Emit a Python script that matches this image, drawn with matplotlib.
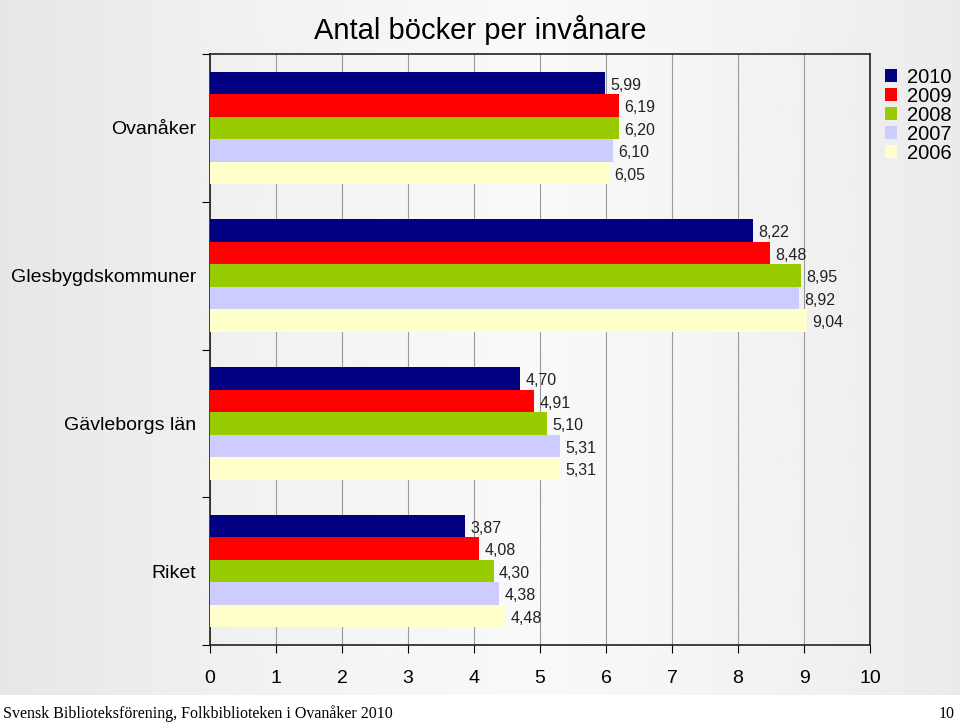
import matplotlib.pyplot as plt
import numpy as np

plt.rcParams['font.family'] = ['Liberation Sans', 'DejaVu Sans']

categories = ['Ovanåker', 'Glesbygdskommuner', 'Gävleborgs län', 'Riket']
years = ['2010', '2009', '2008', '2007', '2006']
v2010 = [5.99, 8.22, 4.70, 3.87]
v2009 = [6.19, 8.48, 4.91, 4.08]
v2008 = [6.20, 8.95, 5.10, 4.30]
v2007 = [6.10, 8.92, 5.31, 4.38]
v2006 = [6.05, 9.04, 5.31, 4.48]
series = [v2010, v2009, v2008, v2007, v2006]
colors = ['#000080', '#ff0000', '#99cc00', '#ccccff', '#ffffcc']

fig = plt.figure(figsize=(9.6, 7.25), dpi=100)
fig.patch.set_facecolor('white')

# grey gradient background behind the chart
bg = fig.add_axes([0, 30 / 725, 1, 695 / 725], zorder=-10)
xs = np.linspace(0, 1, 400)
shade = 0.975 - 0.07 * (np.abs(xs - 0.55) / 0.55) ** 1.3
bg.imshow(np.tile(shade, (10, 1)), cmap='gray', vmin=0, vmax=1,
          aspect='auto', extent=[0, 1, 0, 1])
bg.axis('off')

ax = fig.add_axes([210 / 960, 80 / 725, 660 / 960, 591 / 725])
ax.set_facecolor('none')

n = len(categories)
h = 0.152
pos = np.arange(n)
for i, (vals, col, yr) in enumerate(zip(series, colors, years)):
    y = pos + (i - 2) * h
    ax.barh(y, vals, height=h, color=col, label=yr, zorder=3)
    for yy, v in zip(y, vals):
        ax.text(v + 0.08, yy + 0.015, f'{v:.2f}'.replace('.', ','),
                va='center', ha='left', fontsize=11.5, color='#222222', zorder=4)

ax.set_xlim(0, 10)
ax.set_ylim(n - 0.5, -0.5)
ax.set_xticks(range(11))
ax.tick_params(axis='x', labelsize=14, direction='out', length=6, pad=12)
ax.set_yticks(np.arange(-0.5, n, 1))
ax.set_yticklabels([])
ax.set_yticks(pos, minor=True)
ax.set_yticklabels(categories, minor=True, fontsize=14)
ax.tick_params(axis='y', which='minor', length=0, pad=10)
ax.tick_params(axis='y', which='major', direction='out', length=6)
ax.grid(axis='x', color='#999999', linewidth=0.8, zorder=0)
for s in ax.spines.values():
    s.set_color('#222222')
    s.set_linewidth(1.2)

fig.text(0.5, 1 - 30 / 725, 'Antal böcker per invånare', fontsize=21,
         ha='center', va='center')

leg = ax.legend(loc='upper left', bbox_to_anchor=(1.01, 0.99), frameon=False,
                fontsize=14.5, handlelength=0.6, handleheight=0.6,
                handletextpad=0.5, labelspacing=0.0, borderaxespad=0)

fig.text(3 / 960, 11 / 725, 'Svensk Biblioteksförening, Folkbiblioteken i Ovanåker 2010',
         family='Liberation Serif', fontsize=11.5, va='center', ha='left')
fig.text(955 / 960, 11 / 725, '10', family='Liberation Serif', fontsize=11.5,
         va='center', ha='right')

fig.savefig('out.png', dpi=100)
